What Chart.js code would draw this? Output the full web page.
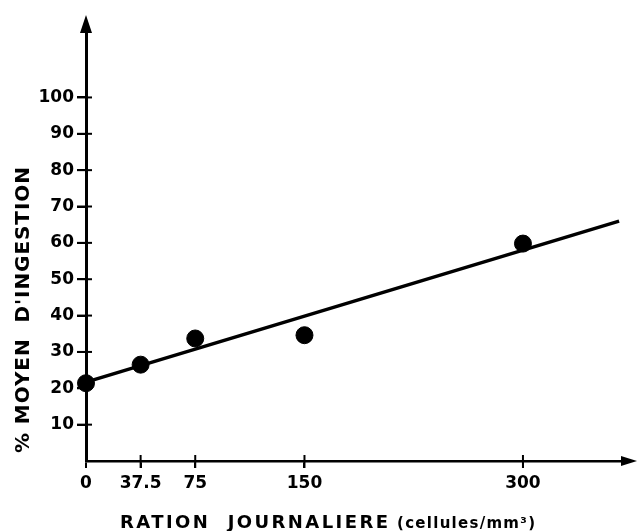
<!DOCTYPE html>
<html>
<head>
<meta charset="utf-8">
<script src="https://cdn.jsdelivr.net/npm/chart.js@4.4.0/dist/chart.umd.min.js"></script>
<style>
  html, body { margin: 0; padding: 0; background: #fff; }
  #wrap { width: 639px; height: 531px; }
</style>
</head>
<body>
<div id="wrap"><canvas id="chart"></canvas></div>
<script>
// valeurs
const rations = [0, 37.5, 75, 150, 300];
const ingestion = [21.4, 26.5, 33.7, 34.6, 59.8];
const fitX = [0, 366];
const fitY = [21.7, 66];
const xTickValues = [0, 37.5, 75, 150, 300];
const yTickValues = [10, 20, 30, 40, 50, 60, 70, 80, 90, 100];

const xTitle = 'RATION  JOURNALIERE';
const xUnit = '(cellules/mm³)';
const yTitle = "% MOYEN  D'INGESTION";

const FONT = '"DejaVu Sans", sans-serif';

// texte étiré à une largeur donnée (espacement des lettres)
function spacedText(ctx, text, x, y, width) {
  ctx.letterSpacing = '0px';
  const w = ctx.measureText(text).width;
  const gap = Math.max(0, (width - w) / (text.length - 1));
  ctx.letterSpacing = gap + 'px';
  ctx.fillText(text, x, y);
  ctx.letterSpacing = '0px';
}

const axesDecor = {
  id: 'axesDecor',
  afterDraw(chart) {
    const { ctx, chartArea, scales } = chart;
    const x0 = scales.x.getPixelForValue(0);
    const y0 = scales.y.getPixelForValue(0);
    ctx.save();
    ctx.fillStyle = '#000';
    ctx.strokeStyle = '#000';

    // petites croix des graduations
    ctx.lineWidth = 2;
    for (const v of yTickValues) {
      const py = scales.y.getPixelForValue(v);
      ctx.beginPath();
      ctx.moveTo(x0 - 9, py);
      ctx.lineTo(x0 + 6, py);
      ctx.stroke();
    }
    for (const v of xTickValues) {
      if (v === 0) continue;
      const px = scales.x.getPixelForValue(v);
      ctx.beginPath();
      ctx.moveTo(px, y0 - 6);
      ctx.lineTo(px, y0 + 7);
      ctx.stroke();
    }

    // flèches
    ctx.beginPath();
    ctx.moveTo(x0, chartArea.top - 17);
    ctx.lineTo(x0 - 6, chartArea.top + 1);
    ctx.lineTo(x0 + 6, chartArea.top + 1);
    ctx.closePath();
    ctx.fill();

    ctx.beginPath();
    ctx.moveTo(chartArea.right + 15, y0);
    ctx.lineTo(chartArea.right - 1, y0 - 5);
    ctx.lineTo(chartArea.right - 1, y0 + 5);
    ctx.closePath();
    ctx.fill();

    // titres
    ctx.textBaseline = 'alphabetic';
    ctx.textAlign = 'left';
    ctx.font = 'bold 18px ' + FONT;
    spacedText(ctx, xTitle, 120, 528, 268);
    ctx.font = 'bold 15px ' + FONT;
    spacedText(ctx, xUnit, 397, 528, 138);

    ctx.translate(29, 453);
    ctx.rotate(-Math.PI / 2);
    ctx.font = 'bold 20px ' + FONT;
    spacedText(ctx, yTitle, 0, 0, 286);
    ctx.restore();
  }
};

new Chart(document.getElementById('chart'), {
  type: 'scatter',
  data: {
    datasets: [
      {
        label: 'droite',
        data: fitX.map((x, i) => ({ x: x, y: fitY[i] })),
        showLine: true,
        borderColor: '#000',
        borderWidth: 3.5,
        pointRadius: 0,
        clip: false
      },
      {
        label: 'ingestion',
        data: rations.map((x, i) => ({ x: x, y: ingestion[i] })),
        backgroundColor: '#000',
        borderColor: '#000',
        pointRadius: 8.5,
        clip: false
      }
    ]
  },
  options: {
    responsive: true,
    maintainAspectRatio: false,
    animation: false,
    layout: { padding: { top: 32, right: 17, left: 0, bottom: 0 } },
    plugins: {
      legend: { display: false },
      tooltip: { enabled: false }
    },
    scales: {
      x: {
        type: 'linear',
        min: 0,
        max: 368,
        afterBuildTicks: (scale) => { scale.ticks = xTickValues.map(v => ({ value: v })); },
        afterFit: (scale) => { scale.height = 70; },
        border: { display: true, color: '#000', width: 2.5 },
        grid: { display: true, drawOnChartArea: false, drawTicks: true, tickLength: 7, color: '#000', lineWidth: 2 },
        ticks: {
          color: '#000',
          padding: 5,
          maxRotation: 0,
          autoSkip: false,
          font: { family: FONT, size: 17, weight: 'bold' },
          callback: (v) => String(v)
        }
      },
      y: {
        type: 'linear',
        min: 0,
        max: 118,
        afterBuildTicks: (scale) => { scale.ticks = yTickValues.map(v => ({ value: v })); },
        afterFit: (scale) => { scale.width = 86; },
        border: { display: true, color: '#000', width: 3 },
        grid: { display: true, drawOnChartArea: false, drawTicks: true, tickLength: 9, color: '#000', lineWidth: 2 },
        ticks: {
          color: '#000',
          padding: 3,
          autoSkip: false,
          font: { family: FONT, size: 17, weight: 'bold' },
          callback: (v) => String(v)
        }
      }
    }
  },
  plugins: [axesDecor]
});
</script>
</body>
</html>
